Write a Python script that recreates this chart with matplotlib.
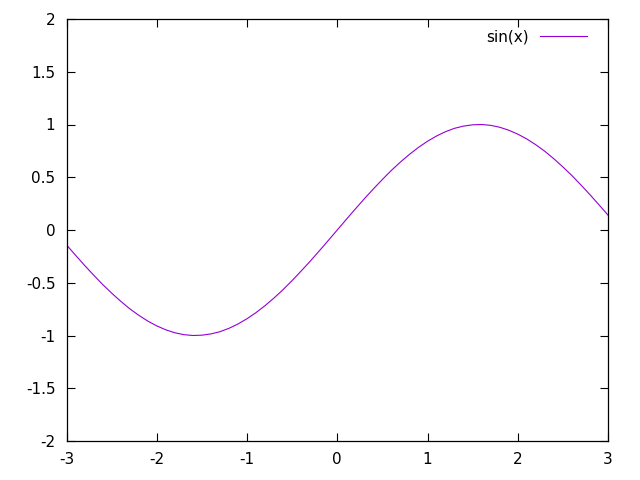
import matplotlib
matplotlib.use('Agg')
import matplotlib.pyplot as plt

# values, x step 0.1
xs = [round(-3.0 + 0.1 * i, 1) for i in range(61)]
ys_neg = [-0.141, -0.239, -0.335, -0.427, -0.516, -0.598, -0.675, -0.746,
          -0.808, -0.863, -0.909, -0.946, -0.974, -0.992, -1.000, -0.997,
          -0.985, -0.964, -0.932, -0.891, -0.841, -0.783, -0.717, -0.644,
          -0.565, -0.479, -0.389, -0.296, -0.199, -0.100]
ys = ys_neg + [0.0] + [-v for v in ys_neg[::-1]]

xticks = [-3, -2, -1, 0, 1, 2, 3]
yticks = [-2, -1.5, -1, -0.5, 0, 0.5, 1, 1.5, 2]
ytick_labels = ['-2', '-1.5', '-1', '-0.5', '0', '0.5', '1', '1.5', '2']

plt.rcParams['font.family'] = 'DejaVu Sans'
fig = plt.figure(figsize=(6.4, 4.8), dpi=100)
ax = fig.add_axes([66.5 / 640, 39 / 480, (608 - 66.5) / 640, (441 - 19) / 480])

ax.plot(xs, ys, color='#9400d3', lw=0.8, label='sin(x)')

ax.set_xlim(-3, 3)
ax.set_ylim(-2, 2)
ax.set_xticks(xticks)
ax.set_xticklabels([str(t) for t in xticks])
ax.set_yticks(yticks)
ax.set_yticklabels(ytick_labels)
ax.tick_params(direction='in', length=6, width=0.8, labelsize=11,
               top=True, right=True, colors='black')
ax.tick_params(axis='y', pad=8)
ax.tick_params(axis='x', pad=8)
for s in ax.spines.values():
    s.set_linewidth(0.9)

ax.legend(loc='upper right', frameon=False, markerfirst=False, fontsize=11,
          handlelength=3.1, handletextpad=0.75,
          bbox_to_anchor=(0.987, 1.007))

fig.savefig('out.png', dpi=100)
